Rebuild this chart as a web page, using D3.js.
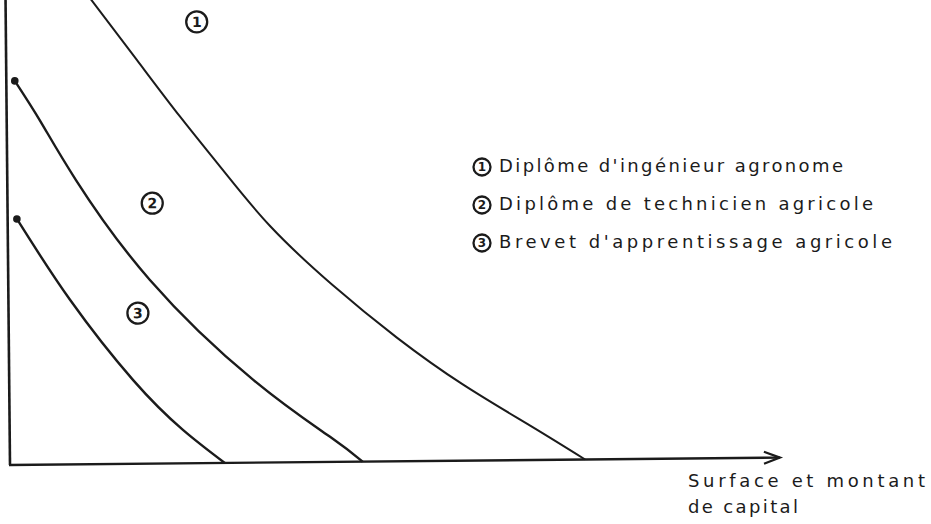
<!DOCTYPE html>
<html>
<head>
<meta charset="utf-8">
<script src="https://cdn.jsdelivr.net/npm/d3@7"></script>
<style>
body { margin: 0; background: #fff; }
</style>
</head>
<body>
<div id="canvas"></div>
<script>
"use strict"

let drawingWidth = 931;
let drawingHeight = 524;

/* Curves, in arbitrary units (0-100 on each axis). */
let curve1X = [10.4, 17.0, 22.5, 28.0, 34.1, 42.0, 50.4, 58.9, 67.6, 74.7];
let curve1Y = [101.5, 86.8, 74.6, 63.0, 50.8, 38.2, 26.6, 16.4, 7.4, 0];

let curve2X = [1.1, 4.4, 8.9, 18.4, 31.7, 41.6, 45.8];
let curve2Y = [82.6, 73.8, 61.2, 39.5, 17.8, 5.4, 0];

let curve3X = [1.2, 8.0, 16.1, 22.5, 27.9];
let curve3Y = [52.9, 35.4, 18.0, 7.2, 0];

/* Circled numbers sitting next to each curve. */
let curveNumbers = ["1", "2", "3"];
let numberX = [24.8, 18.8, 16.8];
let numberY = [94.9, 56.0, 32.4];

let legendLabels = [
    "Diplôme d'ingénieur agronome",
    "Diplôme de technicien agricole",
    "Brevet d'apprentissage agricole"
];
let axisTitle = ["Surface et montant", "de capital"];

let ink = "#1b1b1b";
let font = "'DejaVu Sans', sans-serif";

let drawing = d3.select("#canvas")
    .append("svg")
    .attr("width", drawingWidth)
    .attr("height", drawingHeight);

drawing.append("rect")
    .attr("width", drawingWidth)
    .attr("height", drawingHeight)
    .attr("fill", "#fff");

let x = d3.scaleLinear().domain([0, 100]).range([10, 780]);
let y = d3.scaleLinear().domain([0, 100]).range([465, 0]);

/* the scanned page is a little tilted */
let plot = drawing.append("g")
    .attr("transform", "rotate(-0.55, 10, 465)");

/* axes: plain lines, no ticks */
plot.append("line")
    .attr("x1", x(0)).attr("y1", y(0))
    .attr("x2", x(0)).attr("y2", y(102))
    .attr("stroke", ink)
    .attr("stroke-width", 2.6);

plot.append("line")
    .attr("x1", x(0) - 1).attr("y1", y(0))
    .attr("x2", x(100)).attr("y2", y(0))
    .attr("stroke", ink)
    .attr("stroke-width", 2.4);

/* open arrow head on the x axis */
plot.append("path")
    .attr("d", "M" + (x(100) - 16) + "," + (y(0) - 6) +
        "L" + x(100) + "," + y(0) +
        "L" + (x(100) - 16) + "," + (y(0) + 6))
    .attr("fill", "none")
    .attr("stroke", ink)
    .attr("stroke-width", 2.2)
    .attr("stroke-linejoin", "miter");

let line = d3.line()
    .x(d => x(d[0]))
    .y(d => y(d[1]))
    .curve(d3.curveNatural);

let curves = [
    { xs: curve1X, ys: curve1Y, w: 2.0, dot: false },
    { xs: curve2X, ys: curve2Y, w: 2.4, dot: true },
    { xs: curve3X, ys: curve3Y, w: 2.4, dot: true }
];

curves.forEach(function (c) {
    let pts = c.xs.map((v, i) => [v, c.ys[i]]);
    plot.append("path")
        .attr("d", line(pts))
        .attr("fill", "none")
        .attr("stroke", ink)
        .attr("stroke-width", c.w);
    if (c.dot) {
        plot.append("circle")
            .attr("cx", x(pts[0][0]))
            .attr("cy", y(pts[0][1]))
            .attr("r", 3.8)
            .attr("fill", ink);
    }
});

/* circled number, as ring plus digit */
function circledNumber(parent, cx, cy, r, label, size) {
    parent.append("circle")
        .attr("cx", cx)
        .attr("cy", cy)
        .attr("r", r)
        .attr("fill", "none")
        .attr("stroke", ink)
        .attr("stroke-width", 2.3);
    parent.append("text")
        .attr("x", cx)
        .attr("y", cy)
        .attr("dy", "0.36em")
        .attr("text-anchor", "middle")
        .attr("font-family", font)
        .attr("font-weight", "bold")
        .attr("font-size", size)
        .attr("fill", ink)
        .text(label);
}

curveNumbers.forEach(function (n, i) {
    circledNumber(plot, x(numberX[i]), y(numberY[i]), 10.5, n, 14);
});

/* legend */
let legendX = 499;
let legendTop = 172;
let legendStep = 38;
let legendLengths = [344, 374, 393];

legendLabels.forEach(function (label, i) {
    let by = legendTop + i * legendStep;
    circledNumber(drawing, legendX - 17, by - 5, 8.5, curveNumbers[i], 12);
    drawing.append("text")
        .attr("x", legendX)
        .attr("y", by)
        .attr("font-family", font)
        .attr("font-size", 18)
        .attr("fill", ink)
        .attr("textLength", legendLengths[i])
        .attr("lengthAdjust", "spacing")
        .text(label);
});

/* x axis title, two lines */
let titleLengths = [237, 110];
axisTitle.forEach(function (t, i) {
    drawing.append("text")
        .attr("x", 688)
        .attr("y", 487 + i * 26)
        .attr("font-family", font)
        .attr("font-size", 18)
        .attr("fill", ink)
        .attr("textLength", titleLengths[i])
        .attr("lengthAdjust", "spacing")
        .text(t);
});
</script>
</body>
</html>
